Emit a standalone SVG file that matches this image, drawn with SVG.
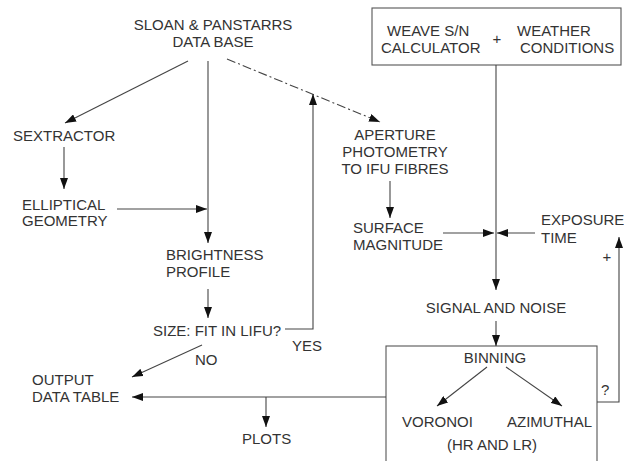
<svg xmlns="http://www.w3.org/2000/svg" width="624" height="461" viewBox="0 0 624 461">
<style>
text{font-family:"Liberation Sans",Arial,sans-serif;font-size:15px;fill:#333}
.c{text-anchor:middle}
.ln{fill:none;stroke:#444;stroke-width:1.1}
.ar{marker-end:url(#ah)}
.dd{stroke-dasharray:9,3,2,3}
.box{fill:#fff;stroke:#555;stroke-width:1.1}
</style>
<defs>
<marker id="ah" markerUnits="userSpaceOnUse" markerWidth="11" markerHeight="8" refX="11" refY="4" orient="auto">
<path d="M0,0 L11,4 L0,8 z" fill="#111"/>
</marker>
</defs>
<rect width="624" height="461" fill="#fff"/>
<g id="n-weave-box"><rect class="box" x="372" y="8" width="249" height="57"/>
<text x="387" y="36">WEAVE S/N</text><text x="381" y="53">CALCULATOR</text>
<text class="c" x="497" y="44">+</text>
<text x="517" y="36">WEATHER</text><text x="520" y="53">CONDITIONS</text></g>
<g id="n-binning"><rect class="box" x="386" y="346" width="211" height="130"/>
<text class="c" x="495" y="363">BINNING</text>
<text x="402" y="427">VORONOI</text>
<text x="507" y="427">AZIMUTHAL</text>
<text class="c" x="492" y="450">(HR AND LR)</text></g>
<g id="connectors">
<line class="ln ar" x1="188" y1="61" x2="65" y2="123"/>
<line class="ln ar" x1="208" y1="61" x2="208" y2="243"/>
<line class="ln ar dd" x1="227" y1="59" x2="380" y2="122"/>
<line class="ln ar" x1="64" y1="147" x2="64" y2="189"/>
<line class="ln ar" x1="117" y1="209" x2="207" y2="209"/>
<line class="ln ar" x1="208" y1="289" x2="208" y2="318"/>
<polyline class="ln ar" points="285,329 313,329 313,94"/>
<line class="ln ar" x1="202" y1="345" x2="132" y2="377"/>
<line class="ln ar" x1="386" y1="397" x2="132" y2="397"/>
<line class="ln ar" x1="266" y1="397" x2="266" y2="427"/>
<line class="ln ar" x1="390" y1="181" x2="390" y2="218"/>
<line class="ln ar" x1="443" y1="233" x2="494" y2="233"/>
<line class="ln ar" x1="535" y1="233" x2="497" y2="233"/>
<line class="ln ar" x1="496" y1="65" x2="496" y2="290"/>
<line class="ln ar" x1="496" y1="321" x2="496" y2="346"/>
<line class="ln ar" x1="487" y1="367" x2="437" y2="406"/>
<line class="ln ar" x1="506" y1="367" x2="562" y2="406"/>
<polyline class="ln ar" points="597,402 619,402 619,237"/>
</g>
<g id="n-sloan"><text class="c" x="213" y="30">SLOAN &amp; PANSTARRS</text><text class="c" x="213" y="47">DATA BASE</text></g>
<g id="n-sextractor"><text x="13" y="141">SEXTRACTOR</text></g>
<g id="n-elliptical"><text x="22" y="210">ELLIPTICAL</text><text x="22" y="226">GEOMETRY</text></g>
<g id="n-brightness"><text x="166" y="260">BRIGHTNESS</text><text x="166" y="277">PROFILE</text></g>
<g id="n-size"><text x="153" y="336">SIZE: FIT IN LIFU?</text></g>
<g id="l-yes"><text x="292" y="351">YES</text></g>
<g id="l-no"><text x="195" y="365">NO</text></g>
<g id="n-output"><text x="32" y="385">OUTPUT</text><text x="32" y="402">DATA TABLE</text></g>
<g id="n-plots"><text x="242" y="444">PLOTS</text></g>
<g id="n-aperture"><text class="c" x="395" y="140">APERTURE</text><text class="c" x="395" y="157">PHOTOMETRY</text><text class="c" x="395" y="174">TO IFU FIBRES</text></g>
<g id="n-surface"><text x="353" y="233">SURFACE</text><text x="353" y="250">MAGNITUDE</text></g>
<g id="n-exposure"><text x="541" y="225">EXPOSURE</text><text x="541" y="243">TIME</text></g>
<g id="n-signal"><text class="c" x="496" y="313">SIGNAL AND NOISE</text></g>
<g id="l-plus"><text class="c" x="607" y="262">+</text></g>
<g id="l-q"><text x="601" y="395">?</text></g>
</svg>
